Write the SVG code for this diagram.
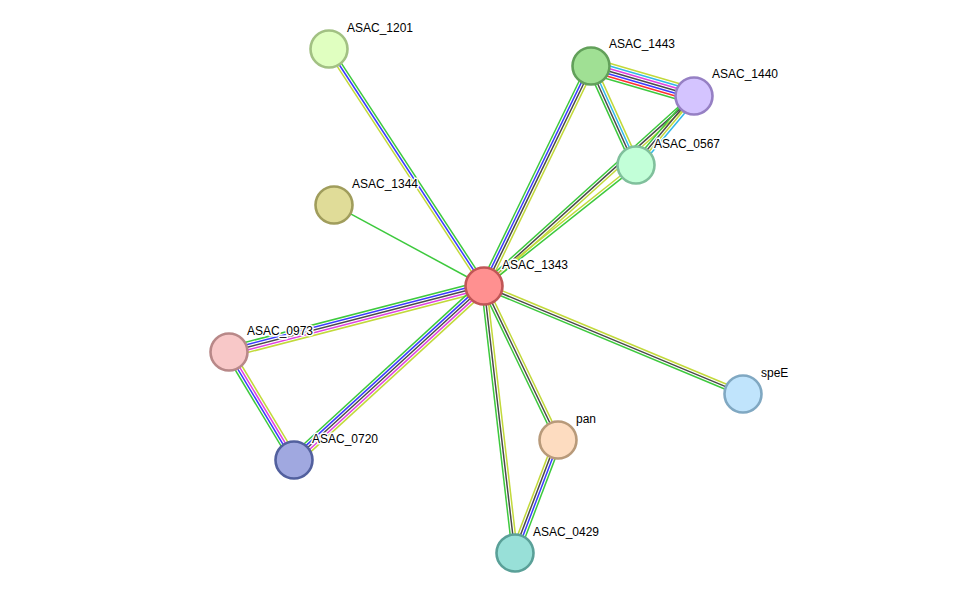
<svg xmlns="http://www.w3.org/2000/svg" width="976" height="599" viewBox="0 0 976 599">
<style>
.e line{stroke-width:1.5;fill:none}
.g{stroke:#3dc93d}.b{stroke:#3a3aff}.k{stroke:#4a4a4a}.y{stroke:#c2d93a}.m{stroke:#e040e0}.c{stroke:#30b8e8}.r{stroke:#ff3030}
.n circle{stroke-width:2.6}
.n text{font-family:"Liberation Sans",Arial,sans-serif;font-size:12px;fill:#000;stroke:#fff;stroke-width:3;stroke-linejoin:round;paint-order:stroke}
</style>
<rect width="976" height="599" fill="#fff"/>
<g id="connectors" class="e">
<g transform="translate(484,286) rotate(-123.2)"><line class="g" x1="0" y1="2.6" x2="283.2" y2="2.6"/><line class="b" x1="0" y1="0" x2="283.2" y2="0"/><line class="y" x1="0" y1="-2.6" x2="283.2" y2="-2.6"/></g>
<g transform="translate(484,286) rotate(-151.6)"><line class="g" x1="0" y1="0" x2="170.5" y2="0"/></g>
<g transform="translate(484,286) rotate(-64.1)"><line class="g" x1="0" y1="-3.9" x2="244.6" y2="-3.9"/><line class="b" x1="0" y1="-1.3" x2="244.6" y2="-1.3"/><line class="k" x1="0" y1="1.3" x2="244.6" y2="1.3"/><line class="y" x1="0" y1="3.9" x2="244.6" y2="3.9"/></g>
<g transform="translate(484,286) rotate(-42.1)"><line class="g" x1="0" y1="-2.6" x2="283.2" y2="-2.6"/><line class="k" x1="0" y1="0" x2="283.2" y2="0"/><line class="y" x1="0" y1="2.6" x2="283.2" y2="2.6"/></g>
<g transform="translate(484,286) rotate(-38.5)"><line class="y" x1="0" y1="-1.3" x2="194.3" y2="-1.3"/><line class="g" x1="0" y1="1.3" x2="194.3" y2="1.3"/></g>
<g transform="translate(484,286) rotate(165.5)"><line class="g" x1="0" y1="5.2" x2="263.4" y2="5.2"/><line class="b" x1="0" y1="2.6" x2="263.4" y2="2.6"/><line class="k" x1="0" y1="0" x2="263.4" y2="0"/><line class="m" x1="0" y1="-2.6" x2="263.4" y2="-2.6"/><line class="y" x1="0" y1="-5.2" x2="263.4" y2="-5.2"/></g>
<g transform="translate(484,286) rotate(137.5)"><line class="g" x1="0" y1="5.2" x2="257.6" y2="5.2"/><line class="b" x1="0" y1="2.6" x2="257.6" y2="2.6"/><line class="k" x1="0" y1="0" x2="257.6" y2="0"/><line class="m" x1="0" y1="-2.6" x2="257.6" y2="-2.6"/><line class="y" x1="0" y1="-5.2" x2="257.6" y2="-5.2"/></g>
<g transform="translate(229,352) rotate(58.96)"><line class="g" x1="0" y1="3.9" x2="126" y2="3.9"/><line class="b" x1="0" y1="1.3" x2="126" y2="1.3"/><line class="m" x1="0" y1="-1.3" x2="126" y2="-1.3"/><line class="y" x1="0" y1="-3.9" x2="126" y2="-3.9"/></g>
<g transform="translate(484,286) rotate(64.3)"><line class="g" x1="0" y1="2.6" x2="170.9" y2="2.6"/><line class="k" x1="0" y1="0" x2="170.9" y2="0"/><line class="y" x1="0" y1="-2.6" x2="170.9" y2="-2.6"/></g>
<g transform="translate(484,286) rotate(83.4)"><line class="g" x1="0" y1="2.6" x2="268.8" y2="2.6"/><line class="k" x1="0" y1="0" x2="268.8" y2="0"/><line class="y" x1="0" y1="-2.6" x2="268.8" y2="-2.6"/></g>
<g transform="translate(484,286) rotate(22.6)"><line class="g" x1="0" y1="2.6" x2="280.6" y2="2.6"/><line class="k" x1="0" y1="0" x2="280.6" y2="0"/><line class="y" x1="0" y1="-2.6" x2="280.6" y2="-2.6"/></g>
<g transform="translate(558,440) rotate(110.8)"><line class="y" x1="0" y1="3.9" x2="120.9" y2="3.9"/><line class="k" x1="0" y1="1.3" x2="120.9" y2="1.3"/><line class="b" x1="0" y1="-1.3" x2="120.9" y2="-1.3"/><line class="g" x1="0" y1="-3.9" x2="120.9" y2="-3.9"/></g>
<g transform="translate(591,66) rotate(16.2)"><line class="y" x1="0" y1="-7.8" x2="107.3" y2="-7.8"/><line class="c" x1="0" y1="-5.2" x2="107.3" y2="-5.2"/><line class="m" x1="0" y1="-2.6" x2="107.3" y2="-2.6"/><line class="k" x1="0" y1="0" x2="107.3" y2="0"/><line class="b" x1="0" y1="2.6" x2="107.3" y2="2.6"/><line class="r" x1="0" y1="5.2" x2="107.3" y2="5.2"/><line class="g" x1="0" y1="7.8" x2="107.3" y2="7.8"/></g>
<g transform="translate(591,66) rotate(65.6)"><line class="g" x1="0" y1="3.9" x2="108.7" y2="3.9"/><line class="k" x1="0" y1="1.3" x2="108.7" y2="1.3"/><line class="c" x1="0" y1="-1.3" x2="108.7" y2="-1.3"/><line class="y" x1="0" y1="-3.9" x2="108.7" y2="-3.9"/></g>
<g transform="translate(694,96) rotate(130)"><line class="g" x1="0" y1="3.9" x2="90.1" y2="3.9"/><line class="k" x1="0" y1="1.3" x2="90.1" y2="1.3"/><line class="y" x1="0" y1="-1.3" x2="90.1" y2="-1.3"/><line class="c" x1="0" y1="-3.9" x2="90.1" y2="-3.9"/></g>
</g>
<g id="ASAC_1201" class="n"><circle cx="329" cy="49" r="18.5" fill="#e0ffc0" stroke="#a2c183"/><text x="347" y="32">ASAC_1201</text></g>
<g id="ASAC_1344" class="n"><circle cx="334" cy="205" r="18.5" fill="#e0dc98" stroke="#a09d5c"/><text x="352" y="188">ASAC_1344</text></g>
<g id="ASAC_1443" class="n"><circle cx="591" cy="66" r="18.5" fill="#a0e094" stroke="#62a05a"/><text x="609" y="48">ASAC_1443</text></g>
<g id="ASAC_1440" class="n"><circle cx="694" cy="96" r="18.5" fill="#d4c4ff" stroke="#9680c4"/><text x="712" y="78">ASAC_1440</text></g>
<g id="ASAC_0567" class="n"><circle cx="636" cy="165" r="18.5" fill="#c2ffd8" stroke="#80c09c"/><text x="654" y="148">ASAC_0567</text></g>
<g id="ASAC_1343" class="n"><circle cx="484" cy="286" r="18.5" fill="#ff9090" stroke="#c05656"/><text x="502" y="269">ASAC_1343</text></g>
<g id="ASAC_0973" class="n"><circle cx="229" cy="352" r="18.5" fill="#f8c8c8" stroke="#b88888"/><text x="247" y="335">ASAC_0973</text></g>
<g id="ASAC_0720" class="n"><circle cx="294" cy="460" r="18.5" fill="#a0a8e0" stroke="#52609e"/><text x="312" y="443">ASAC_0720</text></g>
<g id="pan" class="n"><circle cx="558" cy="440" r="18.5" fill="#fddcc0" stroke="#b89a7a"/><text x="576" y="423">pan</text></g>
<g id="ASAC_0429" class="n"><circle cx="515" cy="553" r="18.5" fill="#98e0d8" stroke="#5aa098"/><text x="533" y="536">ASAC_0429</text></g>
<g id="speE" class="n"><circle cx="743" cy="394" r="18.5" fill="#c0e4fc" stroke="#80a8c2"/><text x="761" y="377">speE</text></g>
</svg>
